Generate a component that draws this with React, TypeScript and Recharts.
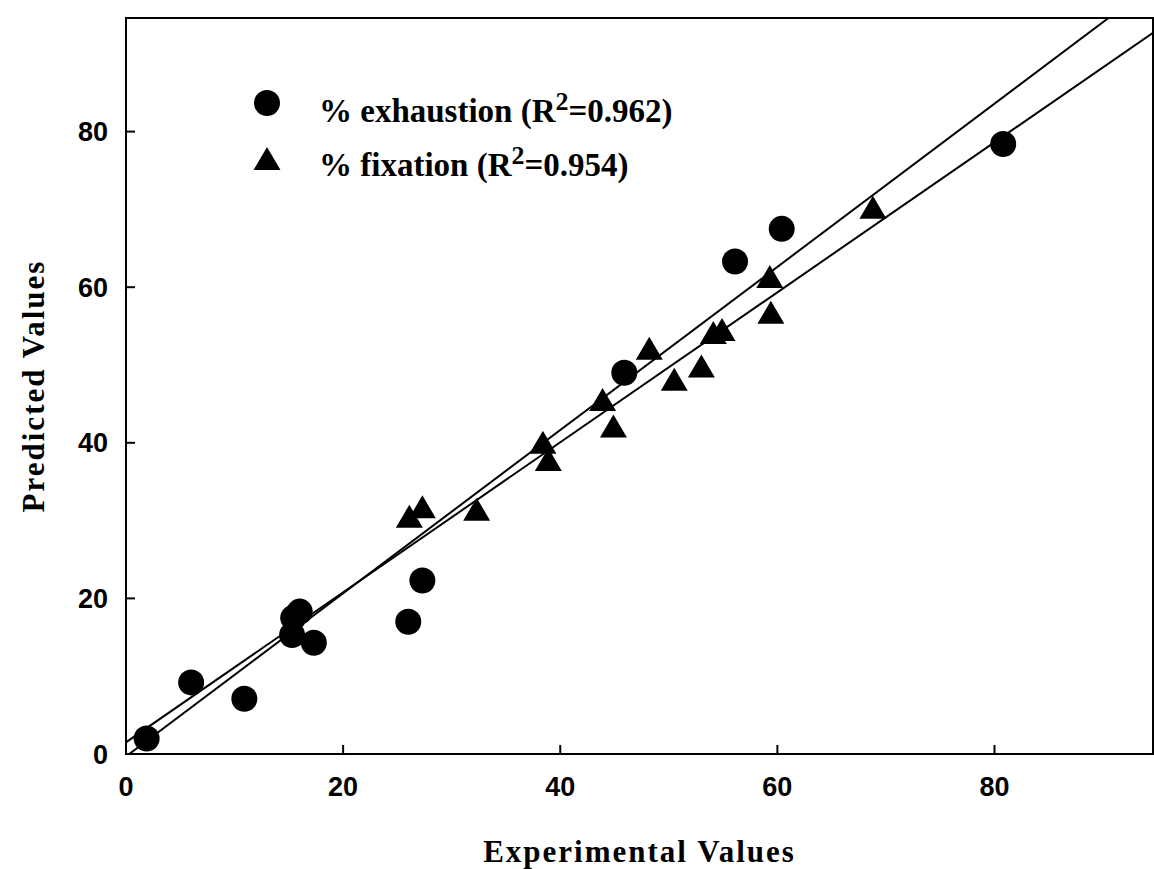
import { ScatterChart, Scatter, XAxis, YAxis, ReferenceArea, Legend } from "recharts";

// values
const exhaustionX = [1.9, 6.0, 10.9, 15.3, 15.4, 16.0, 17.3, 26.0, 27.3, 45.9, 56.1, 60.4, 80.8];
const exhaustionY = [2.0, 9.2, 7.1, 15.3, 17.5, 18.3, 14.3, 17.0, 22.3, 49.0, 63.3, 67.5, 78.4];
const fixationX = [26.1, 27.3, 32.3, 38.4, 38.9, 43.9, 44.9, 48.2, 50.5, 53.0, 54.1, 54.9, 59.3, 59.4, 68.8];
const fixationY = [30.5, 31.7, 31.4, 40.0, 37.8, 45.5, 42.1, 52.1, 48.1, 49.8, 54.1, 54.5, 61.3, 56.7, 70.2];

// regression lines (end points inside the frame)
const exhaustionFitX = [0, 94.6];
const exhaustionFitY = [1.5, 92.7];
const fixationFitX = [0.3, 90.5];
const fixationFitY = [0, 94.6];

const axisTicks = [0, 20, 40, 60, 80];
const axisMax = 94.6;

const legendNames = ["% exhaustion", "% fixation"];
const legendR2 = ["0.962", "0.954"];

const toPoints = (xs: number[], ys: number[]) => xs.map((x, i) => ({ x, y: ys[i] }));

const exhaustionData = toPoints(exhaustionX, exhaustionY);
const fixationData = toPoints(fixationX, fixationY);
const exhaustionFit = toPoints(exhaustionFitX, exhaustionFitY);
const fixationFit = toPoints(fixationFitX, fixationFitY);

const Dot = (props: any) => <circle cx={props.cx} cy={props.cy} r={13} fill="#000" />;

const Tri = (props: any) => {
    const { cx, cy } = props;
    return <polygon points={`${cx},${cy - 12} ${cx - 13.5},${cy + 11} ${cx + 13.5},${cy + 11}`} fill="#000" />;
};

const NoShape = () => <g />;

const tickStyle = { fontFamily: "Liberation Sans", fontWeight: "bold", fontSize: 27, fill: "#000" };
const labelStyle = { fontFamily: "Liberation Serif", fontWeight: "bold", fontSize: 31, fill: "#000", letterSpacing: 2 };

const renderLegend = () => (
    <div style={{ position: "relative", width: 600, height: 130 }}>
        {legendNames.map((name, i) => (
            <div key={name} style={{ position: "absolute", left: 0, top: i * 54, height: 54, width: 600 }}>
                <svg width={40} height={40} style={{ position: "absolute", left: -3, top: i === 0 ? -2 : 0 }}>
                    {i === 0 ? (
                        <circle cx={20} cy={20} r={13} fill="#000" />
                    ) : (
                        <polygon points="20,8 6.5,31 33.5,31" fill="#000" />
                    )}
                </svg>
                <div
                    style={{
                        position: "absolute",
                        left: 69,
                        top: 10,
                        fontFamily: "Liberation Serif",
                        fontWeight: "bold",
                        fontSize: 33,
                        lineHeight: "32px",
                        whiteSpace: "nowrap",
                        color: "#000",
                    }}
                >
                    {name} (R
                    <span style={{ fontSize: 26, position: "relative", top: -12 }}>2</span>={legendR2[i]})
                </div>
            </div>
        ))}
    </div>
);

export default function App() {
    return (
        <div style={{ position: "absolute", left: 0, top: 0, background: "#fff" }}>
            <ScatterChart width={1154} height={869} margin={{ top: 18, right: 1, bottom: 0, left: 0 }}>
                <XAxis
                    type="number"
                    dataKey="x"
                    domain={[0, axisMax]}
                    ticks={axisTicks}
                    allowDataOverflow
                    height={115}
                    stroke="#000"
                    strokeWidth={2}
                    tickSize={-9}
                    tickMargin={32}
                    tick={tickStyle}
                    label={{ value: "Experimental Values", position: "insideBottom", offset: 7, style: labelStyle }}
                />
                <YAxis
                    type="number"
                    dataKey="y"
                    domain={[0, axisMax]}
                    ticks={axisTicks}
                    allowDataOverflow
                    width={126}
                    stroke="#000"
                    strokeWidth={2}
                    tickSize={-9}
                    tickMargin={27}
                    tick={tickStyle}
                    label={{
                        value: "Predicted Values",
                        angle: -90,
                        position: "insideLeft",
                        offset: 33,
                        style: { ...labelStyle, textAnchor: "middle" },
                    }}
                />
                <ReferenceArea x1={0} x2={axisMax} y1={0} y2={axisMax} fill="none" stroke="#000" strokeWidth={2} />
                <Scatter data={exhaustionFit} line={{ stroke: "#000", strokeWidth: 2 }} shape={NoShape} isAnimationActive={false} legendType="none" />
                <Scatter data={fixationFit} line={{ stroke: "#000", strokeWidth: 2 }} shape={NoShape} isAnimationActive={false} legendType="none" />
                <Scatter name="% exhaustion" data={exhaustionData} shape={Dot} isAnimationActive={false} />
                <Scatter name="% fixation" data={fixationData} shape={Tri} isAnimationActive={false} />
                <Legend
                    layout="horizontal"
                    verticalAlign="middle"
                    align="center"
                    content={renderLegend}
                    wrapperStyle={{ left: 250, top: 85, width: 600, height: 130 }}
                />
            </ScatterChart>
        </div>
    );
}
